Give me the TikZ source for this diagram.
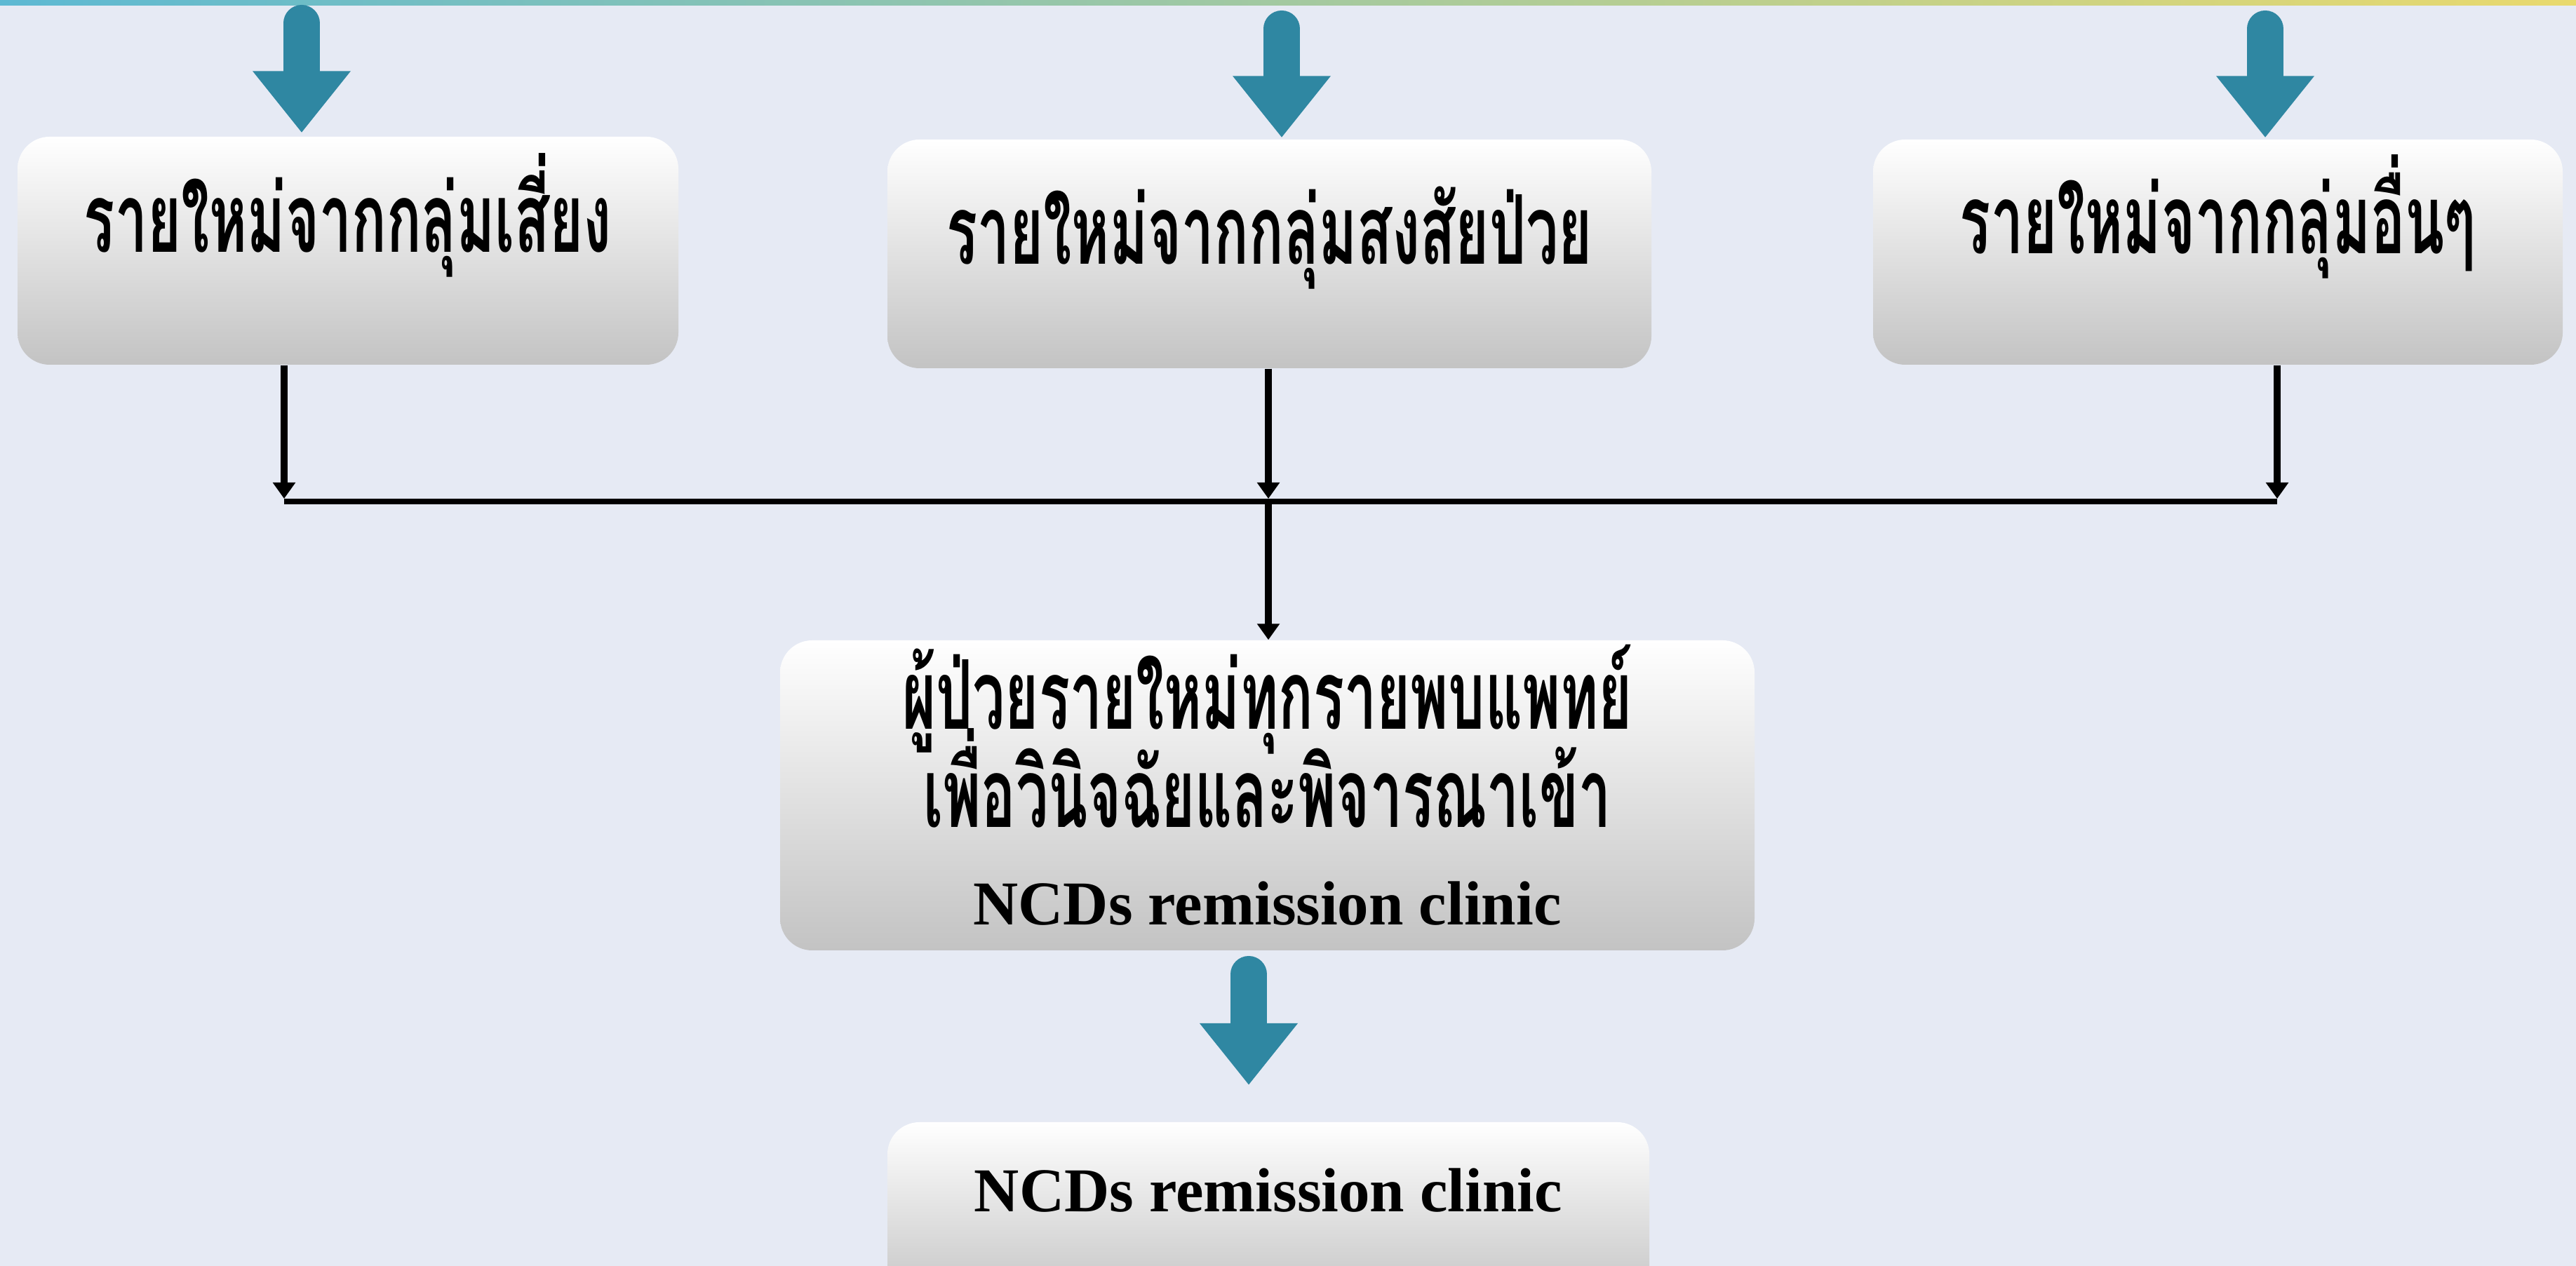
\documentclass[tikz,border=0pt]{standalone}
\usepackage{fontspec}
\usetikzlibrary{arrows.meta,calc,positioning}
\newfontfamily\thaifont[Script=Thai,FakeStretch=0.6]{Loma}
\newfontfamily\engfont{Liberation Serif}
\definecolor{slideBg}{HTML}{E6EAF4}
\definecolor{arrowTeal}{HTML}{2F87A2}
\definecolor{barBlue}{HTML}{5DB9D3}
\definecolor{barGreen}{HTML}{A3CD9F}
\definecolor{barYellow}{HTML}{E9D96D}
\definecolor{boxGray}{HTML}{C3C3C3}
\tikzset{
  flowbox/.style={rectangle, rounded corners=13pt, draw=none, top color=white, bottom color=boxGray, align=center, inner sep=0pt},
  thaiText/.style={font={\lineskiplimit=-5cm\relax\thaifont\bfseries\fontsize{39pt}{39.6pt}\selectfont}},
  engText/.style={font=\engfont\bfseries\fontsize{25.3pt}{30pt}\selectfont},
  link/.style={draw=black, line width=2.3pt},
  linkarrow/.style={-{Triangle[length=0.23cm,width=0.31cm]}, draw=black, line width=2.7pt},
  bigarrow/.style={-{Triangle[length=0.88cm,width=1.34cm]}, draw=arrowTeal, line width=0.52cm, line cap=round}
}
\begin{document}
\begin{tikzpicture}[x=1cm,y=1cm]
\clip (0,0) rectangle (36.72,18.05);
\fill[slideBg] (0,0) rectangle (36.72,18.05);
\shade[left color=barBlue, middle color=barGreen, right color=barYellow] (0,17.97) rectangle (36.72,18.05);

% three entry groups
\node[flowbox, thaiText, minimum width=9.42cm, minimum height=3.25cm, text height=0.7cm, text depth=0.65cm] (riskBox) at (4.96,14.475) {รายใหม่จากกลุ่มเสี่ยง};
\node[flowbox, thaiText, minimum width=10.89cm, minimum height=3.26cm, text height=0.8cm, text depth=0.5cm] (suspectBox) at (18.095,14.43) {รายใหม่จากกลุ่มสงสัยป่วย};
\node[flowbox, thaiText, minimum width=9.83cm, minimum height=3.21cm, text height=0.7cm, text depth=0.65cm] (otherBox) at (31.615,14.455) {รายใหม่จากกลุ่มอื่นๆ};

\coordinate (riskIn) at (4.30,17.72);
\coordinate (suspectIn) at (18.27,17.64);
\coordinate (otherIn) at (32.29,17.64);
\draw[bigarrow] (riskIn) -- ([yshift=0.05cm]riskIn |- riskBox.north);
\draw[bigarrow] (suspectIn) -- ([yshift=0.02cm]suspectIn |- suspectBox.north);
\draw[bigarrow] (otherIn) -- ([yshift=0.02cm]otherIn |- otherBox.north);

% merge line
\coordinate (busL) at (4.05,10.90);
\coordinate (busM) at (18.08,10.90);
\coordinate (busR) at (32.46,10.90);
\draw[linkarrow] (riskBox.south -| busL) -- ([yshift=0.04cm]busL);
\draw[linkarrow] (suspectBox.south -| busM) -- ([yshift=0.04cm]busM);
\draw[linkarrow] (otherBox.south -| busR) -- ([yshift=0.04cm]busR);
\draw[link] (busL) -- (busR);

% doctor review
\node[flowbox, thaiText, minimum width=13.89cm, minimum height=4.42cm, text depth=0.3cm] (clinicBox) at (18.065,6.71)
  {ผู้ป่วยรายใหม่ทุกรายพบแพทย์\\เพื่อวินิจฉัยและพิจารณาเข้า\\{\engfont\bfseries\fontsize{25.3pt}{38.6pt}\selectfont NCDs remission clinic}};
\draw[linkarrow] (busM) -- (busM |- clinicBox.north);

\coordinate (referTop) at (17.80,4.16);
\coordinate (referTip) at (17.80,2.58);
\draw[bigarrow] (referTop) -- (referTip);

\node[flowbox, engText, minimum width=10.86cm, minimum height=2.6cm, text height=0.6cm, text depth=0.64cm] (remissionBox) at (18.08,0.75) {NCDs remission clinic};
\end{tikzpicture}
\end{document}
